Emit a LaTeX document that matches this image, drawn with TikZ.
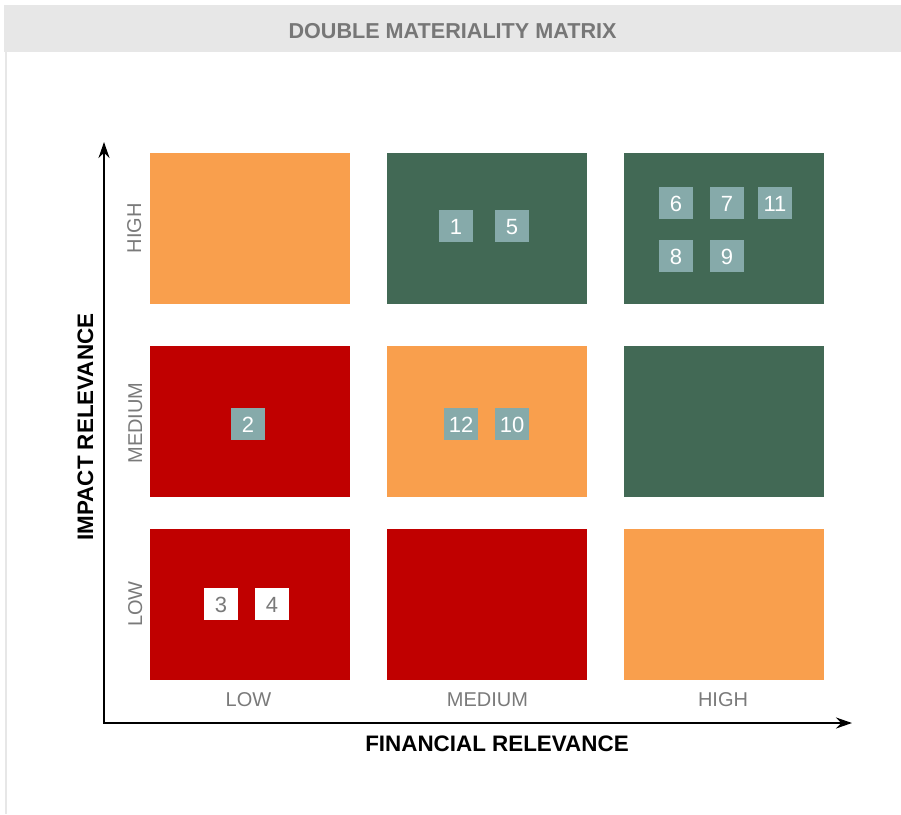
\documentclass[tikz,border=0pt]{standalone}
\usepackage{fontspec}
\setmainfont{Liberation Sans}
\usetikzlibrary{arrows.meta}

\definecolor{titlebg}{HTML}{E7E7E7}
\definecolor{titlegray}{HTML}{777777}
\definecolor{labelgray}{HTML}{7A7A7A}
\definecolor{orangecell}{HTML}{F99F4D}
\definecolor{greencell}{HTML}{426955}
\definecolor{redcell}{HTML}{C00000}
\definecolor{badgefill}{HTML}{86AAAA}

\tikzset{
  cell/.style={minimum width=200pt, minimum height=151pt, inner sep=0pt},
  badge/.style={fill=badgefill, text=white, minimum width=34pt, minimum height=32pt,
    inner sep=0pt, text height=16pt, text depth=0pt, font=\fontsize{22}{22}\selectfont},
  whitebadge/.style={badge, fill=white, text=labelgray},
  levellabel/.style={text=labelgray, inner sep=0pt, text height=14pt, text depth=0pt,
    font=\fontsize{20}{20}\selectfont},
  axislabel/.style={inner sep=0pt, text height=16pt, text depth=0pt,
    font=\bfseries\fontsize{22.4}{22.4}\selectfont},
  axis/.style={line width=2pt, {Stealth[length=16pt,width=11pt]}-{Stealth[length=16pt,width=11pt]}}
}

\begin{document}
\begin{tikzpicture}[x=1pt,y=-1pt]
\useasboundingbox (0,0) rectangle (901,814);

% Title bar and frame
\node[fill=titlebg, minimum width=897pt, minimum height=47pt, inner sep=0pt,
  text=titlegray, text height=19pt, text depth=0pt,
  font=\bfseries\fontsize{21.6}{21.6}\selectfont] (title) at (452.5,28.5) {DOUBLE MATERIALITY MATRIX};
\coordinate (frametop) at (5.5,52);
\coordinate (framebot) at (5.5,814);
\draw[titlebg, line width=2pt] (frametop) -- (framebot);

% High impact row
\node[cell, fill=orangecell] (lowhigh) at (250,228.5) {};
\node[cell, fill=greencell] (medhigh) at (487,228.5) {};
\node[cell, fill=greencell] (highhigh) at (724,228.5) {};

% Medium impact row
\node[cell, fill=redcell] (lowmed) at (250,421.5) {};
\node[cell, fill=orangecell] (medmed) at (487,421.5) {};
\node[cell, fill=greencell] (highmed) at (724,421.5) {};

% Low impact row
\node[cell, fill=redcell] (lowlow) at (250,604.5) {};
\node[cell, fill=redcell] (medlow) at (487,604.5) {};
\node[cell, fill=orangecell] (highlow) at (724,604.5) {};

% Topics
\node[badge] (t1) at (456,226) {1};
\node[badge] (t5) at (512,226) {5};
\node[badge] (t6) at (676,203) {6};
\node[badge] (t7) at (727,203) {7};
\node[badge] (t11) at (775,203) {11};
\node[badge] (t8) at (676,256) {8};
\node[badge] (t9) at (727,256) {9};
\node[badge] (t2) at (248,424) {2};
\node[badge] (t12) at (461,424) {12};
\node[badge] (t10) at (512,424) {10};
\node[whitebadge] (t3) at (221,604) {3};
\node[whitebadge] (t4) at (272,604) {4};

% Level labels
\node[levellabel] (collow) at (248.5,699) {LOW};
\node[levellabel] (colmed) at (487.5,699) {MEDIUM};
\node[levellabel] (colhigh) at (723,699) {HIGH};
\node[levellabel, rotate=90] (rowhigh) at (134,228) {HIGH};
\node[levellabel, rotate=90] (rowmed) at (135,423) {MEDIUM};
\node[levellabel, rotate=90] (rowlow) at (135,604) {LOW};

% Axes
\coordinate (origin) at (104,723);
\coordinate (ytip) at (104,142);
\coordinate (xtip) at (852,723);
\draw[axis] (ytip) -- (origin) -- (xtip);
\node[axislabel] (xlabel) at (497,743.5) {FINANCIAL RELEVANCE};
\node[axislabel, rotate=90] (ylabel) at (85,427) {IMPACT RELEVANCE};
\end{tikzpicture}
\end{document}
